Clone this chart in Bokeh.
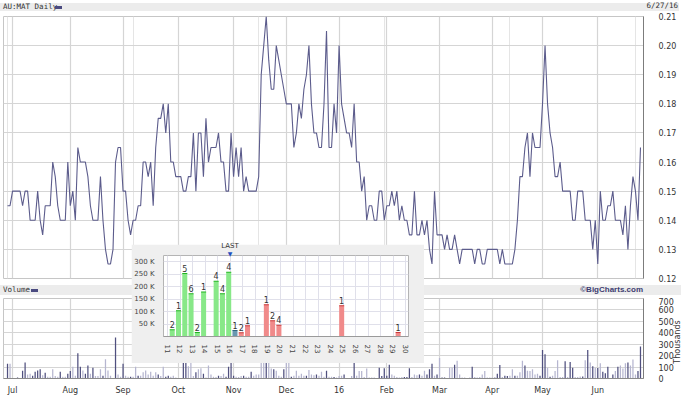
import math
from bokeh.plotting import figure
from bokeh.models import ColumnDataSource, Range1d, FixedTicker, Grid, Div
from bokeh.layouts import column
from bokeh.embed import file_html
from bokeh.resources import INLINE
from bokeh.core.properties import value

# ---------------- data ----------------
price = [
    .145, .145, .15, .15, .15, .15, .145, .15, .15, .14,
    .14, .14, .15, .14, .135, .145, .145, .145, .16, .155,
    .145, .14, .14, .14, .16, .145, .15, .14, .165, .16,
    .16, .16, .155, .145, .14, .14, .14, .155, .14, .13,
    .125, .125, .13, .16, .165, .165, .15, .15, .14, .135,
    .14, .14, .145, .145, .16, .16, .155, .16, .145, .165,
    .175, .175, .18, .17, .18, .16, .16, .155, .155, .155,
    .15, .15, .155, .155, .17, .15, .17, .17, .155, .175,
    .16, .165, .165, .165, .17, .16, .16, .15, .15, .17,
    .155, .165, .155, .165, .15, .155, .15, .15, .15, .15,
    .155, .19, .20, .21, .195, .185, .185, .20, .195, .19,
    .185, .18, .18, .18, .165, .17, .18, .175, .185, .19,
    .20, .18, .17, .17, .165, .165, .18, .205, .165, .165,
    .18, .17, .20, .18, .175, .17, .17, .165, .18, .16,
    .16, .15, .155, .14, .145, .145, .14, .14, .15, .15,
    .14, .145, .145, .15, .145, .15, .14, .145, .14, .14,
    .135, .135, .15, .135, .135, .14, .135, .14, .13, .125,
    .15, .135, .135, .135, .13, .135, .13, .13, .135, .13,
    .125, .13, .13, .13, .13, .13, .125, .13, .13, .125,
    .125, .13, .13, .13, .13, .13, .125, .13, .125, .125,
    .125, .125, .13, .14, .155, .155, .165, .17, .155, .17,
    .165, .165, .165, .18, .20, .18, .17, .165, .155, .155,
    .16, .15, .15, .15, .15, .14, .14, .15, .15, .15,
    .14, .14, .14, .13, .14, .125, .15, .14, .14, .145,
    .145, .15, .14, .14, .14, .135, .145, .13, .145, .155,
    .15, .14, .165,
]

volume_k = [
    129, 129, 5, 5, 8, 5, 68, 140, 34, 42,
    24, 60, 71, 82, 29, 50, 16, 16, 82, 21,
    16, 60, 16, 16, 42, 66, 103, 24, 221, 103,
    71, 42, 113, 42, 95, 21, 21, 82, 24, 168,
    71, 24, 5, 358, 34, 16, 129, 24, 16, 16,
    16, 103, 24, 24, 55, 71, 34, 60, 24, 55,
    34, 21, 103, 16, 24, 16, 24, 8, 5, 5,
    260, 240, 108, 230, 21, 55, 82, 90, 42, 8,
    113, 34, 16, 13, 24, 21, 42, 16, 103, 180,
    24, 16, 13, 21, 24, 16, 16, 60, 24, 34,
    34, 420, 380, 480, 300, 87, 82, 68, 24, 16,
    82, 200, 220, 16, 24, 68, 24, 42, 24, 24,
    74, 34, 29, 34, 24, 60, 16, 68, 16, 16,
    13, 8, 21, 24, 34, 5, 5, 21, 140, 24,
    66, 66, 13, 87, 8, 8, 8, 5, 95, 21,
    90, 24, 121, 34, 24, 13, 8, 13, 13, 13,
    90, 13, 34, 29, 34, 24, 68, 34, 82, 129,
    24, 34, 179, 8, 8, 5, 95, 95, 121, 155,
    34, 8, 8, 5, 8, 103, 13, 8, 13, 34,
    66, 8, 8, 8, 13, 42, 118, 13, 24, 21,
    24, 82, 24, 24, 55, 155, 113, 68, 66, 82,
    34, 42, 24, 250, 213, 95, 16, 24, 66, 160,
    13, 13, 150, 13, 145, 95, 13, 13, 18, 18,
    160, 250, 140, 108, 92, 92, 134, 60, 45, 103,
    5, 34, 66, 103, 113, 87, 134, 140, 113, 166,
    34, 66, 279,
]

# d = dark bar, l = light bar
vol_kind = list(
    "dllldlddll" "ddddldllll" "ldllddlldd" "lddldllldl" "llldlldlld"
    "lldlllllll" "dllddlllll" "ddllldlldl" "lllldllddd" "dllldlldll"
    "llldlldlll" "dlldllllld" "llldllldll" "dllldllldl" "lllllllldd"
    "dddllllldd" "dllldllddd" "ldlddllldl" "llllldllll" "lllllddldd"
    "lldllldlll" "lldddldlll" "lldlddllld" "ldldldlddd" "ldldllldll"
    "ldd"
)

month_idx = [2, 25, 46, 68, 90, 111, 132, 151, 172, 193, 213, 235]
month_labels = ["Jul", "Aug", "Sep", "Oct", "Nov", "Dec", "16", "Feb", "Mar", "Apr", "May", "Jun"]
price_ticks = [0.12, 0.13, 0.14, 0.15, 0.16, 0.17, 0.18, 0.19, 0.20, 0.21]
price_tick_labels = ["0.12", "0.13", "0.14", "0.15", "0.16", "0.17", "0.18", "0.19", "0.20", "0.21"]
vol_ticks = [0, 100, 200, 300, 400, 500, 600, 700]

# inset (trade histogram)
inset_x = [11.375, 11.875, 12.375, 12.875, 13.375, 13.875, 14.875, 15.375, 15.875,
           16.375, 16.875, 17.375, 18.875, 19.375, 19.875, 24.875, 29.375]
inset_vol_k = [27, 103, 252, 171, 16, 178, 221, 171, 257, 24, 15, 43, 127, 63, 45, 123, 16]
inset_trades = ["2", "1", "5", "6", "2", "1", "4", "4", "4", "1", "2", "1", "1", "2", "4", "1", "1"]
inset_side = ["up"] * 9 + ["last"] + ["down"] * 7
inset_xticks = list(range(11, 31))
inset_yticks = [50, 100, 150, 200, 250, 300]
inset_ytick_labels = ["50 K", "100 K", "150 K", "200 K", "250 K", "300 K"]

# ---------------- styling ----------------
LINE = "#5c5c8c"
DARK = "#50507f"
LIGHT = "#b6b6d0"
GRID = "#d5d5d5"
BAND = "#ececec"
TXT = "#333333"
FONT = "DejaVu Sans"
MONO = "'DejaVu Sans Mono', monospace"

idx = list(range(len(price)))
xr = Range1d(-1.6, 253.2)

# ---------------- header band (price) ----------------
head1 = Div(width=682, height=11, margin=0, text=(
    '<div style="position:relative;width:682px;height:11px;">'
    '<div style="position:absolute;left:0;top:2px;width:679px;height:8px;background:%s;"></div>'
    '<div style="position:absolute;left:3px;top:2px;height:8px;line-height:8px;'
    'font-family:%s;font-size:7.5px;color:%s;white-space:nowrap;">AU:MAT Daily</div>'
    '<div style="position:absolute;left:55px;top:5px;width:7px;height:2.5px;background:#4a4a80;"></div>'
    '<div style="position:absolute;right:4px;top:1px;height:8px;line-height:8px;'
    'font-family:%s;font-size:7.5px;color:%s;white-space:nowrap;">6/27/16</div>'
    '</div>') % (BAND, MONO, TXT, MONO, TXT))

# ---------------- price panel ----------------
p = figure(width=682, height=274, x_range=xr, y_range=Range1d(0.12, 0.21),
           output_backend="svg", toolbar_location=None, x_axis_location=None,
           y_axis_location="right", min_border_left=3, min_border_right=39,
           min_border_top=5, min_border_bottom=7, align="start",
           background_fill_color="white", border_fill_color="white")
p.outline_line_color = "#c6c6c6"
pax = p.yaxis[0]
pax.ticker = FixedTicker(ticks=price_ticks)
pax.major_label_overrides = dict(zip(price_ticks, price_tick_labels))
pax.major_tick_line_color = None
pax.minor_tick_line_color = None
pax.axis_line_color = "#7c7c7c"
pax.major_label_standoff = 9
pax.major_label_text_font = FONT
pax.major_label_text_font_size = "8px"
pax.major_label_text_color = TXT
p.ygrid.ticker = FixedTicker(ticks=price_ticks)
p.ygrid.grid_line_color = GRID
p.ygrid.grid_line_width = 1.2
p.add_layout(Grid(dimension=0, ticker=FixedTicker(ticks=month_idx),
                  grid_line_color=GRID, grid_line_width=1.2))
p.line(x=idx, y=price, line_color=LINE, line_width=1.1)

# ---------------- header band (volume) ----------------
head2 = Div(width=682, height=12, margin=0, text=(
    '<div style="position:relative;width:682px;height:12px;">'
    '<div style="position:absolute;left:0;top:0;width:681px;height:10px;background:%s;"></div>'
    '<div style="position:absolute;left:3px;top:1px;height:8px;line-height:8px;'
    'font-family:%s;font-size:7.5px;color:%s;white-space:nowrap;">Volume</div>'
    '<div style="position:absolute;left:31px;top:4px;width:7px;height:2.5px;background:#4a4a80;"></div>'
    '<div style="position:absolute;right:39px;top:1px;height:8px;line-height:8px;'
    'font-family:\'Liberation Sans\', sans-serif;font-weight:bold;font-size:8px;color:#3c3c70;'
    'white-space:nowrap;">\u00a9BigCharts.com</div>'
    '</div>') % (BAND, MONO, TXT))

# ---------------- volume panel ----------------
vsrc = ColumnDataSource(dict(x=idx, v=volume_k,
                             c=[DARK if k == "d" else LIGHT for k in vol_kind]))
v = figure(width=682, height=100, x_range=xr, y_range=Range1d(0, 700),
           output_backend="svg", toolbar_location=None, y_axis_location="right",
           min_border_left=3, min_border_right=39, min_border_top=1, min_border_bottom=10,
           align="start", background_fill_color="white", border_fill_color="white")
v.outline_line_color = "#c6c6c6"
vax = v.yaxis[0]
vax.ticker = FixedTicker(ticks=vol_ticks)
vax.major_tick_line_color = None
vax.minor_tick_line_color = None
vax.axis_line_color = "#7c7c7c"
vax.major_label_standoff = 9
vax.major_label_text_font = FONT
vax.major_label_text_font_size = "8px"
vax.major_label_text_color = TXT
xax = v.xaxis[0]
xax.ticker = FixedTicker(ticks=month_idx)
xax.major_label_overrides = dict(zip(month_idx, month_labels))
xax.major_tick_line_color = None
xax.minor_tick_line_color = None
xax.axis_line_color = "#8a8a8a"
xax.major_label_standoff = 1
xax.major_label_text_font = FONT
xax.major_label_text_font_size = "8px"
xax.major_label_text_color = TXT
v.xgrid.ticker = FixedTicker(ticks=month_idx)
v.ygrid.ticker = FixedTicker(ticks=vol_ticks)
v.xgrid.grid_line_color = GRID
v.ygrid.grid_line_color = GRID
v.xgrid.grid_line_width = 1.2
v.ygrid.grid_line_width = 1.2
v.vbar(x="x", top="v", width=0.5, source=vsrc, fill_color="c", line_color=None)

# rotated unit label of the volume axis (reads bottom to top)
units_label = Div(width=50, height=10, margin=0, text=(
    '<div style="width:50px;height:10px;line-height:10px;text-align:center;'
    'font-family:%s;font-size:8px;color:%s;white-space:nowrap;">Thousands</div>') % (FONT, TXT),
    styles={"position": "absolute", "left": "648px", "top": "337px",
            "transform": "rotate(-90deg)", "z-index": "5"})

# ---------------- inset ----------------
fill_map = {"up": "#88e888", "last": "#6a98b0", "down": "#f08a8a"}
edge_map = {"up": "#22b422", "last": "#2f6680", "down": "#cc3a3a"}
isrc = ColumnDataSource(dict(
    x=inset_x, top=inset_vol_k, n=inset_trades,
    f=[fill_map[s] for s in inset_side], e=[edge_map[s] for s in inset_side],
    x0=[x - 0.2 for x in inset_x], x1=[x + 0.2 for x in inset_x]))

ins = figure(width=293, height=119, x_range=Range1d(10.68, 30.2),
             y_range=Range1d(0, 324), output_backend="svg", toolbar_location=None,
             min_border_left=26, min_border_right=16, min_border_top=11, min_border_bottom=27,
             background_fill_color="white", border_fill_color="#efefef",
             styles={"position": "absolute", "left": "131px", "top": "244px", "z-index": "10"})
ins.outline_line_color = "#b4b4b4"
iy = ins.yaxis[0]
iy.ticker = FixedTicker(ticks=inset_yticks)
iy.major_label_overrides = dict(zip(inset_yticks, inset_ytick_labels))
iy.major_tick_line_color = None
iy.minor_tick_line_color = None
iy.axis_line_color = None
iy.major_label_standoff = 3
iy.major_label_text_font = FONT
iy.major_label_text_font_size = "7px"
iy.major_label_text_color = "#444444"
ix = ins.xaxis[0]
ix.ticker = FixedTicker(ticks=inset_xticks)
ix.major_label_overrides = {t: str(t) for t in inset_xticks}
ix.major_tick_line_color = None
ix.minor_tick_line_color = None
ix.axis_line_color = "#9a9a9a"
ix.major_label_standoff = 2
ix.major_label_orientation = -math.pi / 2
ix.major_label_text_font = FONT
ix.major_label_text_font_size = "7px"
ix.major_label_text_color = "#444444"
ins.xgrid.ticker = FixedTicker(ticks=inset_xticks)
ins.ygrid.ticker = FixedTicker(ticks=inset_yticks)
ins.xgrid.grid_line_color = "#e0e0ea"
ins.ygrid.grid_line_color = "#e0e0ea"

ins.vbar(x="x", top="top", width=0.4, source=isrc, fill_color="f", line_color=None)
ins.segment(x0="x0", y0="top", x1="x1", y1="top", source=isrc, line_color="e", line_width=1.2)
ins.text(x="x", y="top", text="n", source=isrc, text_align="center", text_baseline="bottom",
         y_offset=-2, text_font=value(FONT), text_font_size="8px", text_color="#333333")

last_mark = Div(width=30, height=14, margin=0, text=(
    '<div style="width:30px;text-align:center;font-family:%s;line-height:7px;">'
    '<div style="font-size:7px;color:#333;">LAST</div>'
    '<div style="font-size:6px;color:#1f4fbf;">\u25bc</div></div>') % FONT,
    styles={"position": "absolute", "left": "215px", "top": "243px", "z-index": "11"})

main = column(head1, p, head2, v, spacing=0)
open("out.html", "w").write(file_html([main, units_label, ins, last_mark], INLINE))
